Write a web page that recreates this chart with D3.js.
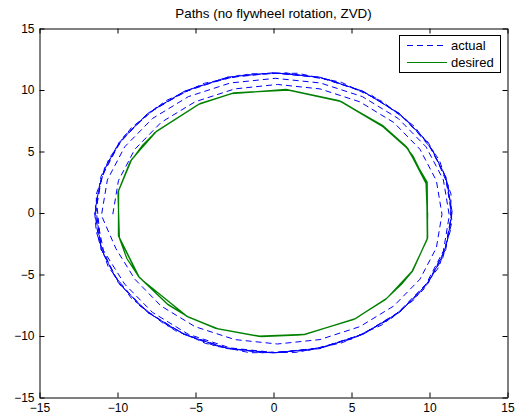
<!DOCTYPE html>
<html>
<head>
<meta charset="utf-8">
<script src="https://cdn.jsdelivr.net/npm/d3@7/dist/d3.min.js"></script>
<style>
  html, body { margin: 0; padding: 0; background: #fff; }
  svg { display: block; font-family: "Liberation Sans", Arial, Helvetica, sans-serif; }
</style>
</head>
<body>
<svg id="chart" width="520" height="418"></svg>
<script>
// Axis limits and ticks
const xDomain = [-15, 15];
const yDomain = [-15, 15];
const xTicks = [-15, -10, -5, 0, 5, 10, 15];
const yTicks = [-15, -10, -5, 0, 5, 10, 15];

const titleText = "Paths (no flywheel rotation, ZVD)";
const seriesNames = ["actual", "desired"];
const seriesColors = ["#0000ff", "#008000"];

// Desired path: three laps of the polygonal reference trajectory
const desiredLap1 = [
  [9.85, 0.10], [9.78, 2.44], [8.95, 4.60], [8.50, 5.35], [7.02, 7.02], [4.27, 9.10], [0.88, 10.02],
  [-2.61, 9.74], [-4.74, 8.88], [-7.55, 6.58], [-8.40, 5.50], [-9.12, 4.27], [-9.95, 1.75],
  [-9.91, -1.93], [-9.40, -3.70], [-8.62, -5.20], [-6.76, -7.45], [-5.50, -8.42], [-3.62, -9.40],
  [-0.88, -10.02], [1.93, -9.88], [5.20, -8.62], [7.22, -6.98], [8.20, -5.80], [8.90, -4.74], [9.86, -2.10]
];
const desiredLap2 = [
  [9.82, 2.30], [8.60, 5.28], [7.10, 6.98], [4.35, 9.06], [0.95, 10.00],
  [-2.55, 9.76], [-4.80, 8.84], [-7.50, 6.64], [-9.10, 4.35], [-9.93, 1.80],
  [-9.94, -1.85], [-8.68, -5.12], [-6.82, -7.38], [-5.45, -8.46], [-3.55, -9.42],
  [-0.95, -10.02], [1.98, -9.88], [5.25, -8.58], [7.26, -6.94], [8.93, -4.68], [9.88, -2.02]
];
const desiredLap3 = [
  [9.85, 2.50], [8.50, 5.42], [7.00, 7.12], [4.20, 9.14], [0.80, 10.05],
  [-2.68, 9.70], [-4.68, 8.92], [-7.62, 6.52], [-9.18, 4.20], [-9.97, 1.70],
  [-9.88, -2.00], [-8.58, -5.28], [-5.55, -8.40], [-3.70, -9.38],
  [-0.80, -10.05], [1.88, -9.90], [5.15, -8.66], [7.18, -7.04], [8.86, -4.80], [9.85, -2.15],
  [9.88, 0.05]
];

// Actual path: spirals outward over two laps, then settles on the outer ring
const actualLap1 = [
  [-10.30, -0.10], [-9.94, 2.63], [-8.89, 5.18], [-7.21, 7.36], [-5.03, 9.04], [-2.48, 10.09],
  [0.25, 10.45], [2.98, 10.09], [5.53, 9.04], [7.71, 7.36], [9.39, 5.18], [10.44, 2.63],
  [10.80, -0.10], [10.44, -2.83], [9.39, -5.38], [7.71, -7.56], [5.53, -9.24], [2.98, -10.29],
  [0.25, -10.65], [-2.48, -10.29], [-5.03, -9.24], [-7.21, -7.56], [-8.89, -5.38], [-10.10, -2.90]
];
const actualLap2 = [
  [-11.03, -0.20], [-10.65, 2.69], [-9.54, 5.38], [-7.76, 7.68], [-5.46, 9.46], [-2.77, 10.57],
  [0.12, 10.95], [3.01, 10.57], [5.70, 9.46], [8.00, 7.68], [9.78, 5.38], [10.89, 2.69],
  [11.27, -0.20], [10.89, -3.09], [9.78, -5.78], [8.00, -8.08], [5.70, -9.86], [3.01, -10.97],
  [0.12, -11.35], [-2.77, -10.97], [-5.46, -9.86], [-7.76, -8.08], [-9.54, -5.78], [-10.90, -3.05]
];
const actualLap3 = [
  [-11.40, 0.05], [-11.00, 2.98], [-9.85, 5.72], [-8.10, 8.05], [-5.70, 9.85], [-2.98, 11.00],
  [0.05, 11.38], [2.95, 11.02], [5.72, 9.90], [8.05, 8.10], [9.90, 5.68], [11.02, 2.95],
  [11.42, -0.05], [11.00, -2.98], [9.88, -5.72], [8.06, -8.08], [5.70, -9.86], [2.94, -11.00],
  [0.02, -11.36], [-2.96, -11.00], [-5.72, -9.86], [-8.08, -8.05], [-9.90, -5.70], [-11.04, -2.95]
];
const actualLap4 = [
  [-11.38, 1.45], [-10.55, 4.42], [-9.12, 6.93], [-6.92, 9.12], [-4.42, 10.55], [-1.48, 11.32],
  [1.55, 11.36], [4.36, 10.62], [6.99, 9.05], [9.05, 7.02], [10.62, 4.34], [11.38, 1.52],
  [11.33, -1.48], [10.60, -4.40], [9.05, -7.00], [6.95, -9.10], [4.40, -10.55], [1.48, -11.33],
  [-1.52, -11.36], [-4.36, -10.60], [-6.99, -9.05], [-9.10, -6.95], [-10.60, -4.36], [-11.36, -1.52]
];
const actualLap5 = [
  [-11.46, 0.02], [-11.05, 3.00], [-9.92, 5.70], [-8.06, 8.10], [-5.74, 9.88], [-2.94, 11.05],
  [-0.03, 11.40], [2.98, 11.04], [5.69, 9.92], [8.10, 8.05], [9.92, 5.74], [11.05, 2.94],
  [11.46, 0.03], [11.04, -2.97], [9.92, -5.70], [8.10, -8.06], [5.73, -9.88], [2.96, -11.03],
  [-0.02, -11.38], [-2.98, -11.02], [-5.70, -9.90], [-8.05, -8.10], [-9.92, -5.73], [-11.05, -2.98]
];
const actualLap6 = [
  [-11.42, 0.70], [-10.82, 3.70], [-9.55, 6.30], [-7.55, 8.55], [-5.10, 10.20], [-2.25, 11.18],
  [0.75, 11.40], [3.65, 10.82], [6.28, 9.58], [8.55, 7.55], [10.22, 5.08], [11.20, 2.22],
  [11.44, -0.72], [10.85, -3.66], [9.58, -6.28], [7.58, -8.55], [5.08, -10.22], [2.22, -11.18],
  [-0.75, -11.36], [-3.68, -10.84], [-6.30, -9.56], [-8.56, -7.56], [-10.20, -5.10], [-11.20, -2.24]
];
const actualLap7 = [
  [-11.44, -0.02], [-11.02, 2.97], [-9.90, 5.72], [-8.08, 8.07], [-5.72, 9.90], [-2.96, 11.03],
  [0.00, 11.39], [2.97, 11.03], [5.71, 9.91], [8.08, 8.08], [9.91, 5.71], [11.03, 2.96],
  [11.44, 0.00], [11.02, -2.96], [9.90, -5.71], [8.08, -8.07], [5.71, -9.87], [2.95, -11.01],
  [0.00, -11.37], [-2.97, -11.01], [-5.71, -9.88], [-8.07, -8.08], [-9.91, -5.71], [-11.03, -2.96],
  [-11.44, 0.00]
];

const actualPath = [].concat(actualLap1, actualLap2, actualLap3, actualLap4, actualLap5, actualLap6, actualLap7);
const desiredPath = [].concat(desiredLap1, desiredLap2, desiredLap3);

// Plot box
const plot = { left: 39.5, right: 507.5, top: 28.5, bottom: 397.5 };

const svg = d3.select("#chart");
const x = d3.scaleLinear().domain(xDomain).range([plot.left, plot.right]);
const y = d3.scaleLinear().domain(yDomain).range([plot.bottom, plot.top]);

svg.append("rect").attr("width", 520).attr("height", 418).attr("fill", "#fff");

const line = d3.line().x(d => x(d[0])).y(d => y(d[1]));

// Actual (dashed blue)
svg.append("path")
  .datum(actualPath)
  .attr("d", line)
  .attr("fill", "none")
  .attr("stroke", seriesColors[0])
  .attr("stroke-width", 1)
  .attr("stroke-dasharray", "6,4");

// Desired (solid green)
svg.append("path")
  .datum(desiredPath)
  .attr("d", line)
  .attr("fill", "none")
  .attr("stroke", seriesColors[1])
  .attr("stroke-width", 1.3);

// Axes: ticks point inward on all four sides
const fmt = d => (d < 0 ? "\u2212" + Math.abs(d) : String(d));

function styleAxis(g) {
  g.selectAll("path.domain").attr("stroke", "#000").attr("stroke-width", 1);
  g.selectAll(".tick line").attr("stroke", "#000").attr("stroke-width", 1);
  g.selectAll("text").attr("fill", "#000").attr("font-size", 12)
    .attr("font-family", "'Liberation Sans', Arial, Helvetica, sans-serif");
}

svg.append("g")
  .attr("transform", `translate(0,${plot.bottom})`)
  .call(d3.axisBottom(x).tickValues(xTicks).tickFormat(fmt).tickSizeInner(-5).tickSizeOuter(0).tickPadding(6))
  .call(styleAxis);

svg.append("g")
  .attr("transform", `translate(0,${plot.top})`)
  .call(d3.axisTop(x).tickValues(xTicks).tickFormat("").tickSizeInner(-5).tickSizeOuter(0))
  .call(styleAxis);

svg.append("g")
  .attr("transform", `translate(${plot.left},0)`)
  .call(d3.axisLeft(y).tickValues(yTicks).tickFormat(fmt).tickSizeInner(-5).tickSizeOuter(0).tickPadding(5))
  .call(styleAxis);

svg.append("g")
  .attr("transform", `translate(${plot.right},0)`)
  .call(d3.axisRight(y).tickValues(yTicks).tickFormat("").tickSizeInner(-5).tickSizeOuter(0))
  .call(styleAxis);

// Title
svg.append("text")
  .attr("x", (plot.left + plot.right) / 2)
  .attr("y", 18)
  .attr("text-anchor", "middle")
  .attr("font-size", 13.4)
  .attr("fill", "#000")
  .text(titleText);

// Legend
const legend = svg.append("g");
legend.append("rect")
  .attr("x", 399.5).attr("y", 35.5).attr("width", 101).attr("height", 37)
  .attr("fill", "#fff").attr("stroke", "#000").attr("stroke-width", 1);

seriesNames.forEach((name, i) => {
  const ly = 45.5 + i * 17;
  legend.append("line")
    .attr("x1", 407).attr("x2", 447).attr("y1", ly).attr("y2", ly)
    .attr("stroke", seriesColors[i]).attr("stroke-width", 1)
    .attr("stroke-dasharray", i === 0 ? "6,4" : null);
  legend.append("text")
    .attr("x", 451).attr("y", ly + 4.5)
    .attr("font-size", 13)
    .attr("fill", "#000")
    .text(name);
});
</script>
</body>
</html>
